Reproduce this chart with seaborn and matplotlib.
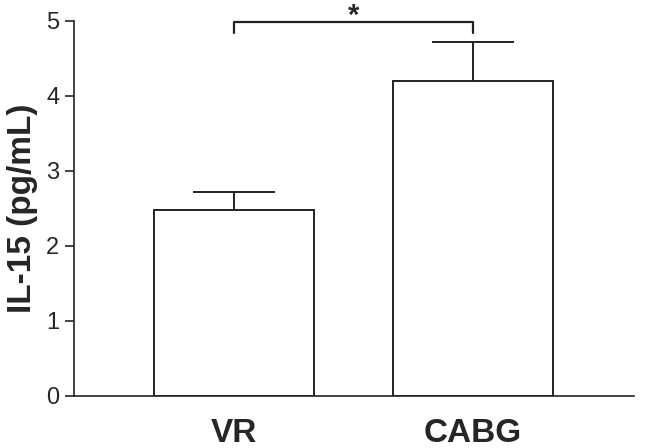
import numpy as np
import pandas as pd
import matplotlib
matplotlib.use("Agg")
import matplotlib.pyplot as plt
import seaborn as sns

# values
groups = ["VR", "CABG"]
means = [2.47, 4.19]
sem = [0.24, 0.52]
y_ticks = [0, 1, 2, 3, 4, 5]
y_label = "IL-15 (pg/mL)"
sig_text = "*"
sig_level = 4.98

sns.set_style("ticks")
plt.rcParams["font.family"] = ["Liberation Sans", "DejaVu Sans"]

df = pd.DataFrame({"group": groups, "value": means})

fig = plt.figure(figsize=(6.58, 4.48), dpi=100)
ax = fig.add_axes([0.1125, 0.1167, 0.851, 0.8371])

bar_w = 0.67
sns.barplot(data=df, x="group", y="value", color="white", edgecolor="#222222",
            linewidth=1.4, width=bar_w, errorbar=None, ax=ax, saturation=1)

# upper-only error bars
x = np.arange(len(groups))
tops = np.array(means) + np.array(sem)
ax.vlines(x, means, tops, color="#222222", lw=1.4)
ax.hlines(tops, x - 0.17, x + 0.17, color="#222222", lw=1.4)

# significance bracket
ax.plot([0, 0, 1, 1], [sig_level - 0.15, sig_level, sig_level, sig_level - 0.15],
        color="#222222", lw=1.6, clip_on=False)
ax.text(0.5, sig_level - 0.1, sig_text, ha="center", va="bottom",
        fontsize=21, fontweight="bold", clip_on=False)

ax.set_xlim(-0.67, 1.674)
ax.set_ylim(0, 5)
ax.set_yticks(y_ticks)
ax.set_xlabel("")
ax.set_ylabel(y_label, fontsize=24, fontweight="bold", labelpad=6)
ax.tick_params(axis="y", labelsize=17, length=6.5, width=1.2, pad=4, color="#222222")
ax.tick_params(axis="x", labelsize=24, length=0, pad=16)
for lab in ax.get_xticklabels():
    lab.set_fontweight("bold")

sns.despine(ax=ax)
for s in ["left", "bottom"]:
    ax.spines[s].set_linewidth(1.2)
    ax.spines[s].set_color("#222222")

fig.savefig("out.png", dpi=100)
